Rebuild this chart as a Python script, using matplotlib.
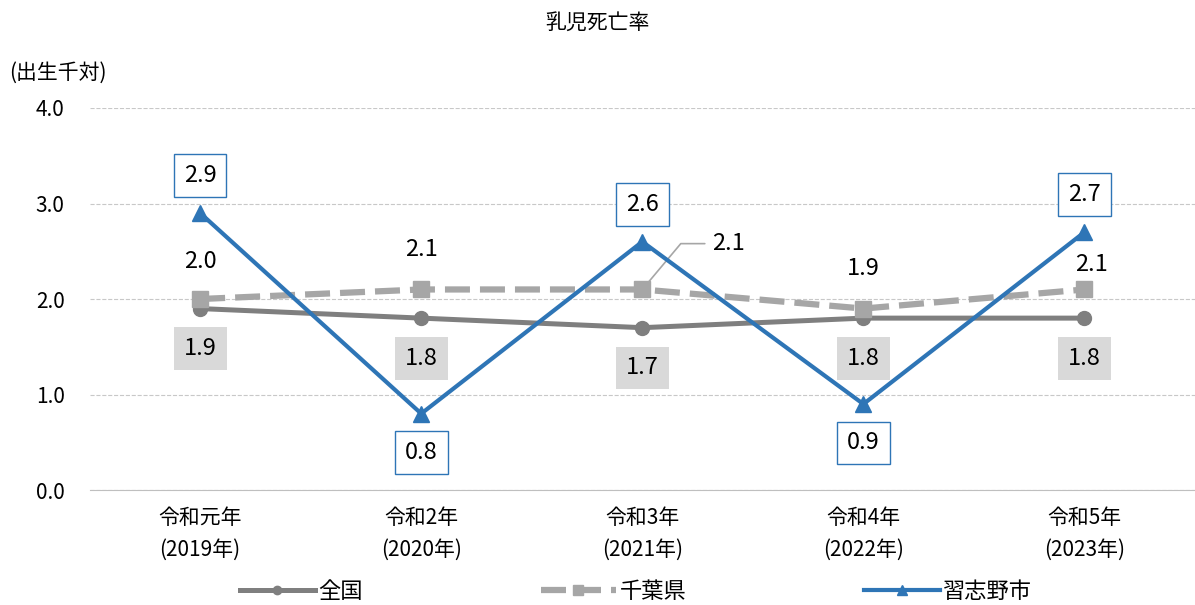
import numpy as np
import matplotlib
matplotlib.use("Agg")
import matplotlib.pyplot as plt

plt.rcParams['font.family'] = ['Noto Sans CJK JP', 'DejaVu Sans']

# =========================
# データ
# =========================
categories = ['令和元年\n(2019年)', '令和2年\n(2020年)', '令和3年\n(2021年)',
              '令和4年\n(2022年)', '令和5年\n(2023年)']
zenkoku = [1.9, 1.8, 1.7, 1.8, 1.8]
chiba = [2.0, 2.1, 2.1, 1.9, 2.1]
narashino = [2.9, 0.8, 2.6, 0.9, 2.7]

c_zen = '#7f7f7f'
c_chiba = '#a6a6a6'
c_nara = '#2e75b6'

x = np.arange(len(categories))

fig = plt.figure(figsize=(11.95, 6.05), dpi=100)
ax = fig.add_axes([0.075, 0.19, 0.925, 0.6315])

ax.plot(x, zenkoku, color=c_zen, lw=3.6, marker='o', ms=10, label='全国', zorder=3)
ax.plot(x, chiba, color=c_chiba, lw=4.5, ls=(0, (4, 1.6)), marker='s', ms=12,
        label='千葉県', zorder=3)
ax.plot(x, narashino, color=c_nara, lw=3, marker='^', ms=12, label='習志野市', zorder=4)

ax.set_xlim(-0.5, 4.5)
ax.set_ylim(0, 4)
ax.set_yticks([0, 1, 2, 3, 4])
ax.set_yticklabels(['0.0', '1.0', '2.0', '3.0', '4.0'], fontsize=15)
ax.set_xticks(x)
ax.set_xticklabels(categories, fontsize=15, linespacing=1.6)
ax.tick_params(length=0, pad=18)
ax.tick_params(axis='x', pad=12)

ax.grid(axis='y', ls='--', color='#c8c8c8', lw=0.8)
ax.set_axisbelow(True)
for s in ['top', 'right', 'left']:
    ax.spines[s].set_visible(False)
ax.spines['bottom'].set_color('#bfbfbf')

# =========================
# データラベル
# =========================
for i in range(len(x)):
    ax.annotate(f'{zenkoku[i]:.1f}', (x[i], zenkoku[i]), xytext=(0, -29),
                textcoords='offset points', ha='center', va='center', fontsize=17,
                bbox=dict(boxstyle='square,pad=0.42', fc='#d9d9d9', ec='none'))
    ax.annotate(f'{narashino[i]:.1f}', (x[i], narashino[i]),
                xytext=(0, 27 if narashino[i] > 2 else -28),
                textcoords='offset points', ha='center', va='center', fontsize=17,
                zorder=5,
                bbox=dict(boxstyle='square,pad=0.42', fc='white', ec=c_nara, lw=1))

chiba_off = [(0, 27), (0, 29), (50, 33), (0, 29), (5, 18)]
for i in range(len(x)):
    if i == 2:
        ax.annotate(f'{chiba[i]:.1f}', (x[i], chiba[i]), xytext=chiba_off[i],
                    textcoords='offset points', ha='left', va='center', fontsize=17,
                    arrowprops=dict(arrowstyle='-', color=c_chiba, lw=1.2,
                                    shrinkA=3, shrinkB=2, relpos=(0, 0.5),
                                    connectionstyle='angle,angleA=0,angleB=50,rad=0'))
    else:
        ax.annotate(f'{chiba[i]:.1f}', (x[i], chiba[i]), xytext=chiba_off[i],
                    textcoords='offset points', ha='center', va='center', fontsize=17)

fig.text(0.5, 0.963, '乳児死亡率', ha='center', va='center', fontsize=15)
fig.text(0.008, 0.88, '(出生千対)', ha='left', va='center', fontsize=15)

fig.legend(loc='center', bbox_to_anchor=(0.532, 0.022), ncol=3, frameon=False,
           fontsize=16, handlelength=3.4, columnspacing=8.0, handletextpad=0.15,
           markerscale=0.6)

fig.savefig('out.png', dpi=100)
